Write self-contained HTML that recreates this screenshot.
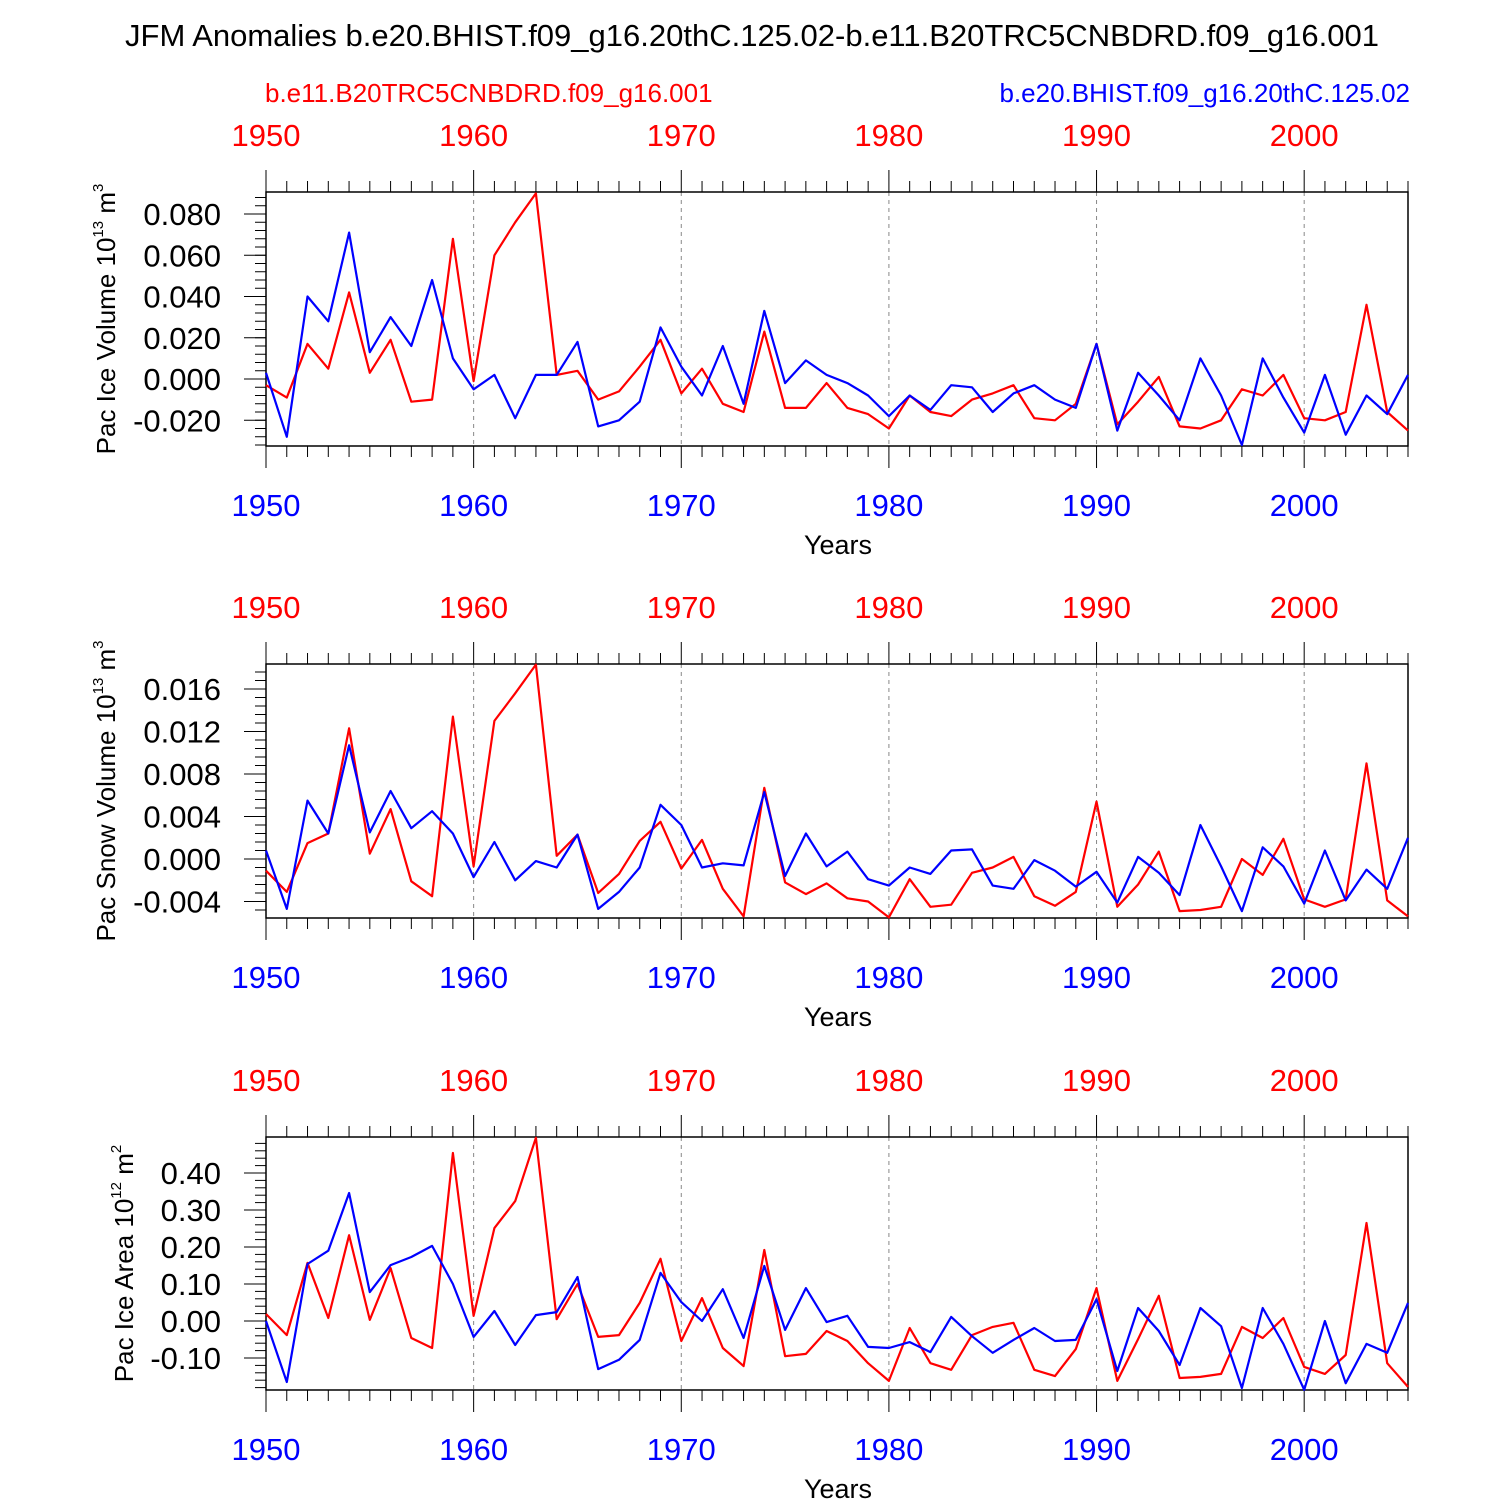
<!DOCTYPE html>
<html><head><meta charset="utf-8"><style>
html,body{margin:0;padding:0;background:#fff;}
svg{display:block;font-family:"Liberation Sans",sans-serif;}
</style></head><body>
<svg id="chart" width="1500" height="1500" viewBox="0 0 1500 1500">
<text x="752" y="46" font-size="31" text-anchor="middle" fill="#000">JFM Anomalies b.e20.BHIST.f09_g16.20thC.125.02-b.e11.B20TRC5CNBDRD.f09_g16.001</text>
<text x="265" y="102" font-size="26" fill="#ff0000">b.e11.B20TRC5CNBDRD.f09_g16.001</text>
<text x="1410" y="102" font-size="26" text-anchor="end" fill="#0000ff">b.e20.BHIST.f09_g16.20thC.125.02</text>
</svg>
<script>
const years = [];
for (let y = 1950; y <= 2005; y++) years.push(y);
const xTickYears = [1950,1960,1970,1980,1990,2000];

const iceVolBlue = [0.003,-0.028,0.040,0.028,0.071,0.013,0.030,0.016,0.048,0.010,-0.005,0.002,-0.019,0.002,0.002,0.018,-0.023,-0.020,-0.011,0.025,0.006,-0.008,0.016,-0.012,0.033,-0.002,0.009,0.002,-0.002,-0.008,-0.018,-0.008,-0.015,-0.003,-0.004,-0.016,-0.007,-0.003,-0.010,-0.014,0.017,-0.025,0.003,-0.008,-0.020,0.010,-0.008,-0.032,0.010,-0.009,-0.026,0.002,-0.027,-0.008,-0.017,0.002];
const iceVolRed = [-0.003,-0.009,0.017,0.005,0.042,0.003,0.019,-0.011,-0.010,0.068,-0.001,0.060,0.076,0.090,0.002,0.004,-0.010,-0.006,0.006,0.019,-0.007,0.005,-0.012,-0.016,0.023,-0.014,-0.014,-0.002,-0.014,-0.017,-0.024,-0.008,-0.016,-0.018,-0.010,-0.007,-0.003,-0.019,-0.020,-0.012,0.017,-0.022,-0.011,0.001,-0.023,-0.024,-0.020,-0.005,-0.008,0.002,-0.019,-0.020,-0.016,0.036,-0.016,-0.025];
const snowVolBlue = [0.0008,-0.0047,0.0055,0.0024,0.0107,0.0025,0.0064,0.0029,0.0045,0.0024,-0.0017,0.0016,-0.0020,-0.0002,-0.0008,0.0023,-0.0047,-0.0031,-0.0008,0.0051,0.0032,-0.0008,-0.0004,-0.0006,0.0063,-0.0016,0.0024,-0.0007,0.0007,-0.0019,-0.0025,-0.0008,-0.0014,0.0008,0.0009,-0.0025,-0.0028,-0.0001,-0.0011,-0.0026,-0.0012,-0.0041,0.0002,-0.0013,-0.0034,0.0032,-0.0007,-0.0049,0.0011,-0.0007,-0.0042,0.0008,-0.0039,-0.0010,-0.0028,0.0020];
const snowVolRed = [-0.0011,-0.0031,0.0015,0.0024,0.0123,0.0005,0.0047,-0.0021,-0.0035,0.0134,-0.0007,0.0130,0.0156,0.0183,0.0003,0.0023,-0.0032,-0.0014,0.0017,0.0035,-0.0009,0.0018,-0.0028,-0.0054,0.0067,-0.0022,-0.0033,-0.0023,-0.0037,-0.0040,-0.0055,-0.0019,-0.0045,-0.0043,-0.0013,-0.0008,0.0002,-0.0035,-0.0044,-0.0031,0.0054,-0.0045,-0.0024,0.0007,-0.0049,-0.0048,-0.0045,0.0000,-0.0015,0.0019,-0.0038,-0.0045,-0.0038,0.0090,-0.0039,-0.0054];
const iceAreaBlue = [0.00,-0.165,0.154,0.19,0.346,0.078,0.151,0.173,0.203,0.10,-0.043,0.027,-0.065,0.016,0.024,0.119,-0.13,-0.105,-0.051,0.13,0.051,0.00,0.086,-0.046,0.149,-0.024,0.089,-0.003,0.014,-0.07,-0.073,-0.057,-0.084,0.011,-0.041,-0.086,-0.051,-0.019,-0.054,-0.051,0.059,-0.135,0.035,-0.027,-0.119,0.035,-0.014,-0.181,0.035,-0.062,-0.186,0.00,-0.168,-0.062,-0.086,0.049];
const iceAreaRed = [0.019,-0.038,0.157,0.008,0.232,0.003,0.143,-0.046,-0.073,0.454,0.014,0.251,0.324,0.495,0.005,0.10,-0.043,-0.038,0.049,0.168,-0.054,0.062,-0.073,-0.122,0.192,-0.095,-0.089,-0.027,-0.054,-0.114,-0.162,-0.019,-0.114,-0.132,-0.038,-0.016,-0.005,-0.132,-0.149,-0.076,0.089,-0.162,-0.049,0.068,-0.154,-0.151,-0.143,-0.016,-0.046,0.008,-0.124,-0.143,-0.092,0.265,-0.114,-0.178];

const volTicks = [-0.020,0.000,0.020,0.040,0.060,0.080];
const snowTicks = [-0.004,0.000,0.004,0.008,0.012,0.016];
const areaTicks = [-0.10,0.00,0.10,0.20,0.30,0.40];

const NS = "http://www.w3.org/2000/svg";
const svg = document.getElementById('chart');
const X0 = 266, X1 = 1408;
function xs(yr){ return X0 + (yr-1950)/(2005-1950)*(X1-X0); }
function mk(tag, attrs, parent){
  const e = document.createElementNS(NS, tag);
  for (const k in attrs) e.setAttribute(k, attrs[k]);
  (parent||svg).appendChild(e); return e;
}

const panels = [
  {name:'ice-volume', top:192, bot:446, y0:379, yPerUnit:2062.5, ticks:volTicks, dec:3, minor:0.004, blue:iceVolBlue, red:iceVolRed, label:['Pac Ice Volume 10','13',' m','3'], labelX:115},
  {name:'snow-volume', top:664, bot:918, y0:859, yPerUnit:10625, ticks:snowTicks, dec:3, minor:0.0008, blue:snowVolBlue, red:snowVolRed, label:['Pac Snow Volume 10','13',' m','3'], labelX:115},
  {name:'ice-area', top:1137, bot:1390, y0:1321, yPerUnit:370, ticks:areaTicks, dec:2, minor:0.02, blue:iceAreaBlue, red:iceAreaRed, label:['Pac Ice Area 10','12',' m','2'], labelX:133}
];

panels.forEach(p => {
  const g = mk('g', {});
  
  
  const ys = v => p.y0 - v*p.yPerUnit;
  const ymax = (p.y0 - p.top)/p.yPerUnit;
  const yminV = -(p.bot - p.y0)/p.yPerUnit;
  xTickYears.slice(1).forEach(yr => {
    const l = mk('line', {x1:xs(yr), x2:xs(yr), y1:p.top, y2:p.bot, stroke:'#888', 'stroke-width':1, 'stroke-dasharray':'4,4'}, g);
    
    
  });
  const fr = mk('rect', {x:X0, y:p.top, width:X1-X0, height:p.bot-p.top, fill:'none', stroke:'#000', 'stroke-width':1.5}, g);
  
  
  years.forEach(yr => {
    const major = xTickYears.includes(yr);
    const len = major ? 22 : 11;
    mk('line', {x1:xs(yr), x2:xs(yr), y1:p.top, y2:p.top-len, stroke:'#000', 'stroke-width':1}, g);
    mk('line', {x1:xs(yr), x2:xs(yr), y1:p.bot, y2:p.bot+len, stroke:'#000', 'stroke-width':1}, g);
  });
  xTickYears.forEach(yr => {
    const t = mk('text', {x:xs(yr), y:p.top-46, 'font-size':31, 'text-anchor':'middle', fill:'#ff0000'}, g);
    t.textContent = yr;
    
    
    const b = mk('text', {x:xs(yr), y:p.bot+70, 'font-size':31, 'text-anchor':'middle', fill:'#0000ff'}, g);
    b.textContent = yr;
    
    
  });
  const xt = mk('text', {x:838, y:p.bot+108, 'font-size':27, 'text-anchor':'middle', fill:'#000'}, g);
  xt.textContent = 'Years';
  
  
  const start = Math.ceil(yminV/p.minor - 1e-6);
  for (let k = start; k*p.minor <= ymax + 1e-9; k++) {
    const v = k*p.minor;
    mk('line', {x1:X0, x2:X0-11, y1:ys(v), y2:ys(v), stroke:'#000', 'stroke-width':1}, g);
  }
  p.ticks.forEach(v => {
    mk('line', {x1:X0, x2:X0-22, y1:ys(v), y2:ys(v), stroke:'#000', 'stroke-width':1}, g);
    const t = mk('text', {x:X0-45, y:ys(v)+11, 'font-size':31, 'text-anchor':'end', fill:'#000'}, g);
    t.textContent = v.toFixed(p.dec);
    
    
  });
  const cy = (p.top+p.bot)/2;
  const yt = mk('text', {x:0, y:0, 'font-size':26, 'text-anchor':'middle', fill:'#000', transform:`translate(${p.labelX},${cy}) rotate(-90)`}, g);
  
  
  p.label.forEach((s,i) => {
    const ts = mk('tspan', {}, yt);
    if (i % 2 === 1) { ts.setAttribute('font-size', 15); ts.setAttribute('dy', -12); }
    else if (i > 0) { ts.setAttribute('dy', 12); }
    ts.textContent = s;
  });
  [['red', p.red, '#ff0000'], ['blue', p.blue, '#0000ff']].forEach(([nm, arr, col]) => {
    const pts = arr.map((v,i) => xs(years[i]).toFixed(1) + ',' + ys(v).toFixed(1)).join(' ');
    const pl = mk('polyline', {points:pts, fill:'none', stroke:col, 'stroke-width':2.2, 'stroke-linejoin':'round'}, g);
    
    
  });
});
</script>
</body></html>
